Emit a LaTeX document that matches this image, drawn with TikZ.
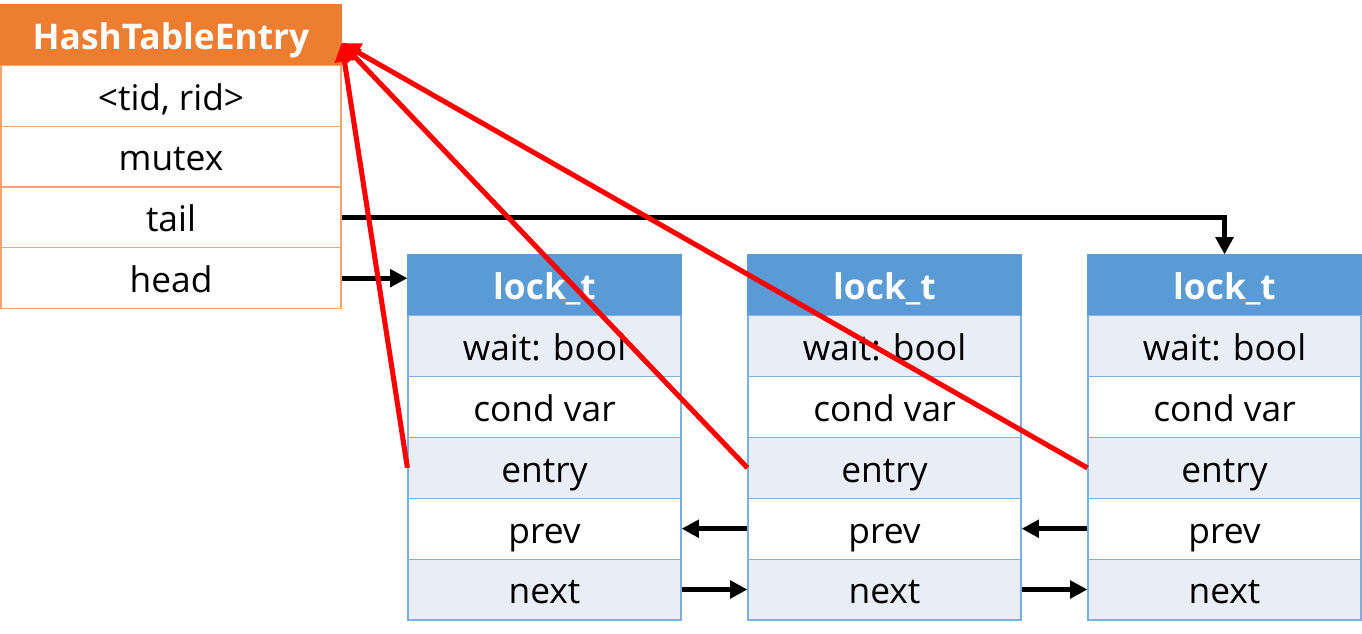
\documentclass[tikz,border=0pt]{standalone}
\usepackage{fontspec}
\setmainfont{Open Sans}
\usetikzlibrary{arrows.meta,positioning}
\definecolor{htorange}{HTML}{ED7D31}
\definecolor{htline}{HTML}{F4A46E}
\definecolor{lkblue}{HTML}{5B9BD5}
\definecolor{lkrow}{HTML}{E9EDF6}

\begin{document}
\begin{tikzpicture}[x=0.75pt,y=-0.75pt,node distance=45.6pt,
  font=\fontsize{26.5}{30}\selectfont,
  fld/.style={draw,line width=0.9pt,inner sep=0pt,minimum height=45.6pt,text height=22pt,text depth=0.5pt},
  htfld/.style={fld,draw=htline,fill=white,minimum width=255pt},
  hthead/.style={htfld,draw=htorange,fill=htorange,text=white,font=\fontsize{26.5}{30}\selectfont\bfseries},
  lkfld/.style={fld,draw=lkblue!80,fill=white,minimum width=204.75pt},
  lkshade/.style={lkfld,fill=lkrow},
  lkhead/.style={lkfld,draw=lkblue,fill=lkblue,text=white,font=\fontsize{26.5}{30}\selectfont\bfseries},
  blk/.style={draw,line width=4pt,-{Triangle[length=13pt,width=13pt]}},
  redarr/.style={draw=red,line width=3.8pt,-{Triangle[length=14pt,width=14pt]}}]
\useasboundingbox (0,0) rectangle (1362,634);

% hash table entry
\node[hthead] (hte) at (171,35) {HashTableEntry};
\node[htfld] [below of=hte] (tr) {<tid, rid>};
\node[htfld] [below of=tr] (mtx) {mutex};
\node[htfld] [below of=mtx] (tl) {tail};
\node[htfld] [below of=tl] (hd) {head};

% lock_t nodes
\node[lkhead] (l1) at (544.5,285.5) {lock\_t};
\node[lkshade] [below of=l1] (l1w) {wait: bool};
\node[lkfld] [below of=l1w] (l1c) {cond var};
\node[lkshade] [below of=l1c] (l1e) {entry};
\node[lkfld] [below of=l1e] (l1p) {prev};
\node[lkshade] [below of=l1p] (l1n) {next};

\node[lkhead] (l2) at (884.5,285.5) {lock\_t};
\node[lkshade] [below of=l2] (l2w) {wait: bool};
\node[lkfld] [below of=l2w] (l2c) {cond var};
\node[lkshade] [below of=l2c] (l2e) {entry};
\node[lkfld] [below of=l2e] (l2p) {prev};
\node[lkshade] [below of=l2p] (l2n) {next};

\node[lkhead] (l3) at (1224.5,285.5) {lock\_t};
\node[lkshade] [below of=l3] (l3w) {wait: bool};
\node[lkfld] [below of=l3w] (l3c) {cond var};
\node[lkshade] [below of=l3c] (l3e) {entry};
\node[lkfld] [below of=l3e] (l3p) {prev};
\node[lkshade] [below of=l3p] (l3n) {next};

\coordinate (tip) at ([yshift=-6pt]hte.east);

\draw[blk] (tl.east) -| (l3.north);
\draw[blk] (hd.east) -- (hd.east -| l1.west);
\path
(l2p.west)	edge[blk]	(l1p.east)
(l3p.west)	edge[blk]	(l2p.east)
(l1n.east)	edge[blk]	(l2n.west)
(l2n.east)	edge[blk]	(l3n.west);
\path
(l1e.west)	edge[redarr]	(tip)
(l2e.west)	edge[redarr]	(tip)
(l3e.west)	edge[redarr]	(tip);
\end{tikzpicture}
\end{document}
